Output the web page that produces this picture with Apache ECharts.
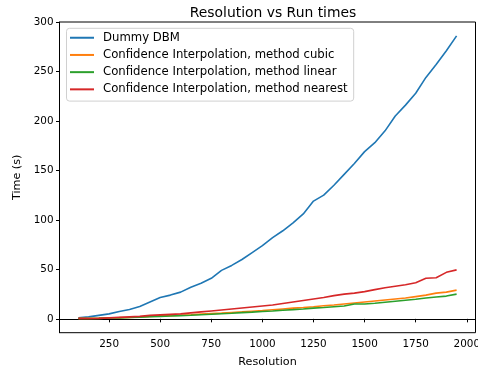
<!DOCTYPE html>
<html>
<head>
<meta charset="utf-8">
<script src="https://cdn.jsdelivr.net/npm/echarts@6/dist/echarts.min.js"></script>
<style>
  html, body {margin: 0; padding: 0; background: #fff;}
  #chart {width: 478px; height: 373px;}
</style>
</head>
<body>
<div id="chart"></div>
<script>
// resolutions, 100 to 1950 in steps of 50
const resolutions = [100, 150, 200, 250, 300, 350, 400, 450, 500, 550, 600, 650, 700, 750, 800, 850, 900, 950, 1000,
  1050, 1100, 1150, 1200, 1250, 1300, 1350, 1400, 1450, 1500, 1550, 1600, 1650, 1700, 1750, 1800, 1850, 1900, 1950];

const dummyDbm = [1, 2, 3.5, 5, 7.5, 9.5, 12.5, 17, 21.5, 24, 27, 32, 36, 41, 49, 54, 60, 67, 74,
  82, 89, 97, 106, 119, 125, 135, 146, 157, 169, 178, 190, 205, 216, 228, 244, 257, 271, 286];
const cubic = [0.5, 0.5, 0.7, 1, 1.2, 1.5, 2, 2.5, 3, 3.3, 3.7, 4.2, 4.8, 5.3, 5.8, 6.4, 7, 7.7, 8.4,
  9.2, 10, 10.8, 11.5, 12.3, 13.2, 14, 15, 16, 17, 18, 19, 20, 21, 22.5, 24, 26, 27, 29];
const linear = [0.3, 0.3, 0.5, 0.8, 1, 1.3, 1.7, 2.1, 2.5, 2.9, 3.3, 3.7, 4.2, 4.7, 5.2, 5.7, 6.3, 6.8, 7.4,
  8, 8.7, 9.3, 10, 10.8, 11.5, 12.3, 13, 15, 15, 15.8, 16.8, 17.8, 18.8, 19.8, 21, 22, 23, 25];
const nearest = [0.5, 0.3, 0.5, 1, 1.5, 2, 2.5, 3.5, 4, 4.5, 5, 6, 7, 8, 9, 10, 11, 12, 13,
  14, 15.5, 17, 18.5, 20, 21.5, 23.5, 25, 26, 27.5, 29.5, 31.5, 33, 34.5, 36.5, 41, 41.5, 47, 49.5];

const xTicks = [250, 500, 750, 1000, 1250, 1500, 1750, 2000];
const yTicks = [0, 50, 100, 150, 200, 250, 300];

const names = [
  "Dummy DBM",
  "Confidence Interpolation, method cubic",
  "Confidence Interpolation, method linear",
  "Confidence Interpolation, method nearest",
];
const colors = ["#1f77b4", "#ff7f0e", "#2ca02c", "#d62728"];

const font = "DejaVu Sans";

function pairs(values) {
  return resolutions.map((r, i) => [r, values[i]]);
}

const chart = echarts.init(document.getElementById("chart"), null, {renderer: "canvas"});
const option = {
  animation: false,
  color: colors,
  title: {
    text: "Resolution vs Run times",
    left: 268, top: 1, textAlign: "center",
    textStyle: {fontFamily: font, fontSize: 13.9, fontWeight: "normal", color: "#000"},
  },
  legend: {
    orient: "vertical",
    left: 66.5, top: 28.3,
    padding: [2.7, 6, 5, 3.5],
    itemGap: 3.7,
    itemWidth: 24, itemHeight: 2,
    icon: "rect",
    backgroundColor: "rgba(255,255,255,0.8)",
    borderColor: "#d0d0d0", borderWidth: 1, borderRadius: 3,
    textStyle: {fontFamily: font, fontSize: 11.7, color: "#000", lineHeight: 13.5, padding: [0, 0, 0, 4]},
    data: names,
  },
  grid: {
    left: 59.5, right: 2.5, top: 22, bottom: 40.3,
    outerBoundsMode: "none",
    show: true, borderColor: "#000", borderWidth: 1, backgroundColor: "transparent",
  },
  xAxis: {
    type: "value", min: 7.5, max: 2042.5,
    name: "Resolution", nameLocation: "middle", nameGap: 23.5,
    nameTextStyle: {fontFamily: font, fontSize: 11.2, color: "#000"},
    axisLine: {lineStyle: {color: "#000", width: 1}},
    axisTick: {show: true, length: 3.5, inside: false, customValues: xTicks, lineStyle: {color: "#000"}},
    axisLabel: {
      customValues: xTicks, formatter: (v) => String(v),
      fontFamily: font, fontSize: 10.4, color: "#000", margin: 6.5, showMaxLabel: true,
    },
    splitLine: {show: false},
  },
  yAxis: {
    type: "value", min: -14, max: 300,
    name: "Time (s)", nameLocation: "middle", nameGap: 35, nameRotate: 90,
    nameTextStyle: {fontFamily: font, fontSize: 11.2, color: "#000"},
    axisLine: {show: true, lineStyle: {color: "#000", width: 1}},
    axisTick: {show: true, length: 3.5, customValues: yTicks, lineStyle: {color: "#000"}},
    axisLabel: {
      customValues: yTicks, formatter: (v) => String(v),
      fontFamily: font, fontSize: 10.4, color: "#000", margin: 6,
    },
    splitLine: {show: false},
  },
  series: [dummyDbm, cubic, linear, nearest].map((vals, i) => ({
    name: names[i],
    type: "line",
    data: pairs(vals),
    showSymbol: false,
    lineStyle: {width: 1.6, color: colors[i]},
    itemStyle: {color: colors[i]},
    z: 2 + i,
  })),
};
chart.setOption(option);
</script>
</body>
</html>
